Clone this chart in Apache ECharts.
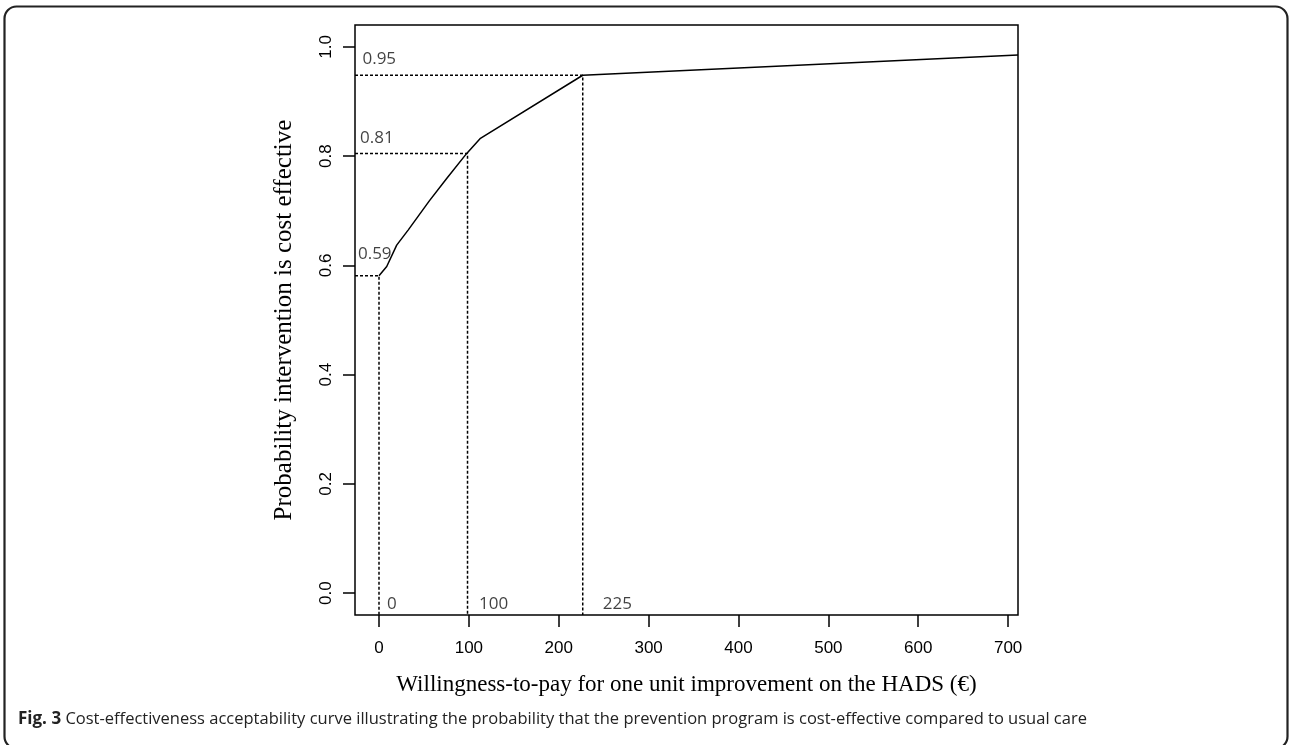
<!DOCTYPE html>
<html>
<head>
<meta charset="utf-8">
<script src="https://cdn.jsdelivr.net/npm/echarts@6/dist/echarts.min.js"></script>
<style>
html,body{margin:0;padding:0;background:#fff;}
#chart{width:1290px;height:745px;}
</style>
</head>
<body>
<div id="chart"></div>
<script>
// Curve: willingness-to-pay (€) vs probability cost-effective
var wtp  = [0, 8.6, 19.7, 32.6, 56, 75.3, 97.6, 112.4, 226.7, 711];
var prob = [0.581, 0.598, 0.637, 0.665, 0.718, 0.759, 0.805, 0.832, 0.948, 0.985];

// Reference (dashed) lines: vertical at refX, horizontal at refY
var refX = [0, 98.5, 226.7];
var refY = [0.581, 0.805, 0.948];

// Annotation texts and their anchor (left-middle) in data coordinates
var annText = ['0.59', '0.81', '0.95', '0', '100', '225'];
var annX = [-23.4, -21.1, -18.4, 8.9, 111.3, 249];
var annY = [0.620, 0.832, 0.978, -0.020, -0.020, -0.020];

// Axis ticks
var xTicks = [0, 100, 200, 300, 400, 500, 600, 700];
var yTicks = [0, 0.2, 0.4, 0.6, 0.8, 1.0];

var xMin = -26.7, xMax = 711, yMin = -0.04, yMax = 1.04;

var chart = echarts.init(document.getElementById('chart'), null, {renderer: 'canvas'});

var curve = wtp.map(function (x, i) { return [x, prob[i]]; });
var refSeries = refX.map(function (x, i) {
  return {
    type: 'line',
    data: [[xMin, refY[i]], [x, refY[i]], [x, yMin]],
    symbol: 'none',
    silent: true,
    lineStyle: {color: '#000', width: 1.5, type: [3, 2]},
    z: 2
  };
});

var tickStyle = {color: '#000', width: 1.5};

var option = {
  animation: false,
  backgroundColor: '#fff',
  grid: {
    left: 355, right: 272, top: 25, bottom: 130,
    show: true, borderColor: '#000', borderWidth: 1.5, backgroundColor: 'transparent'
  },
  xAxis: {
    type: 'value', min: xMin, max: xMax,
    name: 'Willingness-to-pay for one unit improvement on the HADS (€)',
    nameLocation: 'middle', nameGap: 58,
    nameTextStyle: {fontFamily: 'Liberation Serif', fontSize: 23, color: '#000'},
    axisLine: {show: false, onZero: false},
    splitLine: {show: false},
    axisTick: {show: true, inside: false, customValues: xTicks, length: 12, lineStyle: tickStyle},
    axisLabel: {
      customValues: xTicks, margin: 25, fontFamily: 'Liberation Sans', fontSize: 17, color: '#000'
    }
  },
  yAxis: {
    type: 'value', min: yMin, max: yMax,
    name: 'Probability intervention is cost effective',
    nameLocation: 'middle', nameGap: 58, nameRotate: 90,
    nameTextStyle: {fontFamily: 'Liberation Serif', fontSize: 25, color: '#000'},
    axisLine: {show: false, onZero: false},
    splitLine: {show: false},
    axisTick: {show: true, inside: false, customValues: yTicks, length: 12, lineStyle: tickStyle},
    axisLabel: {
      customValues: yTicks, margin: 20, rotate: 90,
      fontFamily: 'Liberation Sans', fontSize: 17, color: '#000',
      formatter: function (v) { return v.toFixed(1); }
    }
  },
  series: [
    {
      type: 'line',
      data: curve,
      symbol: 'none',
      silent: true,
      lineStyle: {color: '#000', width: 1.5},
      z: 3
    }
  ].concat(refSeries).concat([
    {
      type: 'scatter',
      symbolSize: 0,
      silent: true,
      data: annText.map(function (t, i) { return {value: [annX[i], annY[i]], name: t}; }),
      label: {
        show: true, position: 'right', distance: 0,
        formatter: '{b}',
        fontFamily: 'Open Sans', fontSize: 17, color: '#111'
      },
      z: 4
    }
  ]),
  graphic: [
    {
      type: 'rect',
      shape: {x: 4.5, y: 6.5, width: 1283, height: 742, r: 12},
      style: {fill: 'none', stroke: '#222', lineWidth: 2.2},
      silent: true
    },
    {
      type: 'text',
      left: 18, top: 711,
      style: {
        text: '{b|Fig. 3} Cost-effectiveness acceptability curve illustrating the probability that the prevention program is cost-effective compared to usual care',
        fontFamily: 'Open Sans', fontSize: 16.5, fill: '#222',
        rich: {b: {fontFamily: 'Open Sans', fontWeight: 'bold', fontSize: 17, fill: '#222'}}
      },
      silent: true
    }
  ]
};
chart.setOption(option);
</script>
</body>
</html>
